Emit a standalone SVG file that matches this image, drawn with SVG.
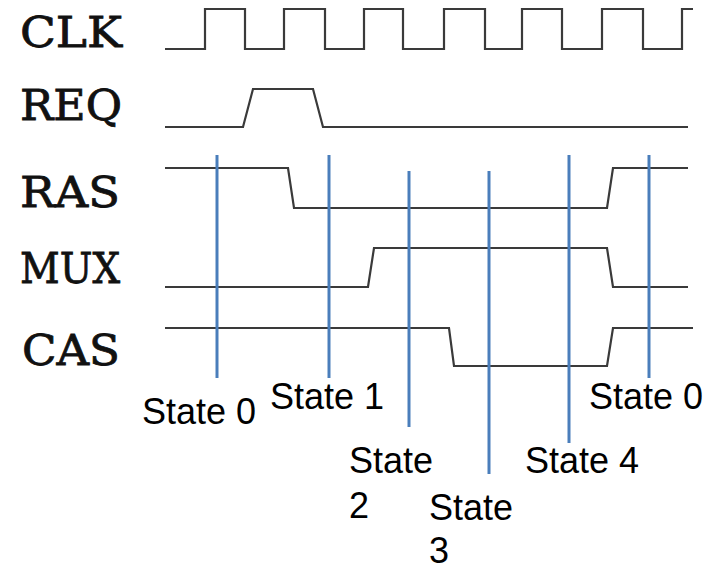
<svg xmlns="http://www.w3.org/2000/svg" width="711" height="569" viewBox="0 0 711 569">
<style>
.sig{fill:none;stroke:#3a3a3a;stroke-width:2.2;stroke-linejoin:miter}
.name{font-family:"DejaVu Serif","Liberation Serif",serif;font-size:43px;fill:#111;stroke:#111;stroke-width:0.8}
.mark{stroke:#4a7ebb;stroke-width:3}
.lbl{font-family:"Liberation Sans",Arial,sans-serif;font-size:36px;fill:#000}
</style>
<rect width="711" height="569" fill="#fff"/>
<g id="CLK">
<text class="name" x="20" y="47" textLength="102" lengthAdjust="spacingAndGlyphs">CLK</text>
<path class="sig" d="M165,49 H205 V9 H245 V49 H284 V9 H325 V49 H364 V9 H403 V49 H444 V9 H485 V49 H522 V9 H562 V49 H602 V9 H643 V49 H682 V9 H693"/>
</g>
<g id="REQ">
<text class="name" x="20" y="120" textLength="102" lengthAdjust="spacingAndGlyphs">REQ</text>
<path class="sig" d="M165,127 H243 L253,89 H313 L323,127 H688"/>
</g>
<g id="RAS">
<text class="name" x="20" y="207" textLength="100" lengthAdjust="spacingAndGlyphs">RAS</text>
<path class="sig" d="M165,168 H288 L294,208 H607 L613,168 H688"/>
</g>
<g id="MUX">
<text class="name" x="20" y="283" textLength="100" lengthAdjust="spacingAndGlyphs">MUX</text>
<path class="sig" d="M165,287 H368 L374,248 H607 L613,287 H688"/>
</g>
<g id="CAS">
<text class="name" x="22" y="365" textLength="98" lengthAdjust="spacingAndGlyphs">CAS</text>
<path class="sig" d="M165,328 H449 L454,366 H607 L613,328 H693"/>
</g>
<g id="connectors">
<line class="mark" x1="217" y1="155" x2="217" y2="378"/>
<line class="mark" x1="329" y1="155" x2="329" y2="378"/>
<line class="mark" x1="409" y1="171" x2="409" y2="427"/>
<line class="mark" x1="489" y1="171" x2="489" y2="474"/>
<line class="mark" x1="569" y1="155" x2="569" y2="443"/>
<line class="mark" x1="649" y1="155" x2="649" y2="378"/>
</g>
<g id="state-labels">
<text class="lbl" x="142" y="424">State 0</text>
<text class="lbl" x="270" y="409">State 1</text>
<text class="lbl" x="349" y="473">State</text>
<text class="lbl" x="349" y="518">2</text>
<text class="lbl" x="429" y="520">State</text>
<text class="lbl" x="429" y="563">3</text>
<text class="lbl" x="525" y="473">State 4</text>
<text class="lbl" x="589" y="409">State 0</text>
</g>
</svg>
